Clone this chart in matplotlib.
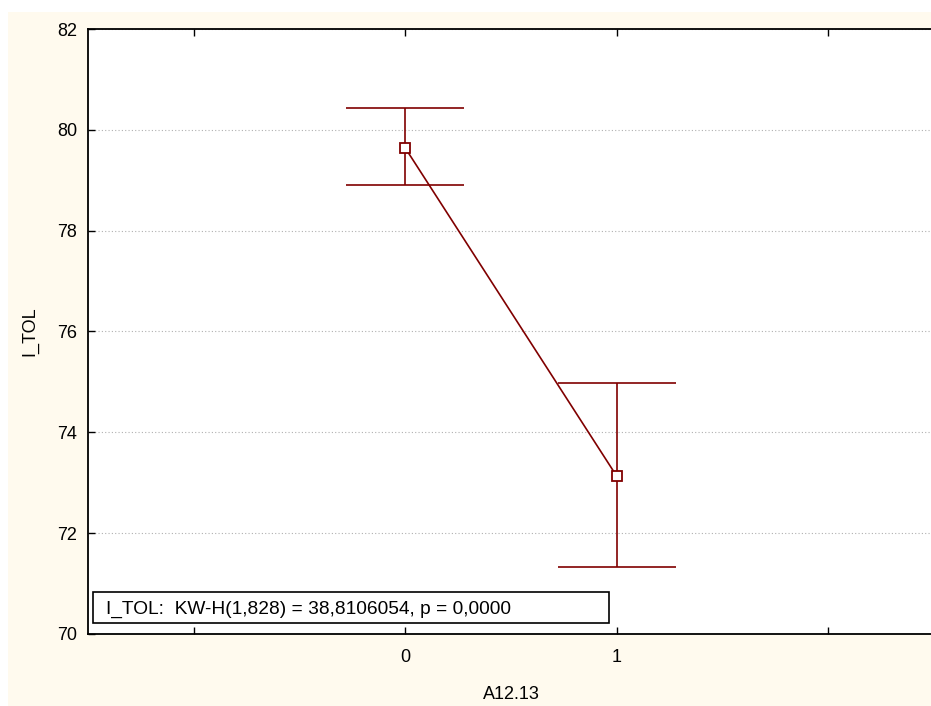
import matplotlib.pyplot as plt
from matplotlib.patches import Rectangle

# data
groups = [0, 1]
means = [79.64, 73.13]
upper = [80.44, 74.98]
lower = [78.91, 71.33]
y_ticks = [70, 72, 74, 76, 78, 80, 82]
stat_text = "I_TOL:  KW-H(1,828) = 38,8106054, p = 0,0000"

red = "#800000"
cream = "#fffaee"
plt.rcParams['font.family'] = ['Liberation Sans', 'DejaVu Sans']

fig = plt.figure(figsize=(9.31, 7.06), dpi=100, facecolor="white")
fig.patches.append(Rectangle((8 / 931, -0.01), 1, 1.01 - 12 / 706, transform=fig.transFigure,
                             facecolor=cream, edgecolor="none", zorder=-10))
ax = fig.add_axes([88 / 931, 72 / 706, 846 / 931, 605 / 706])
ax.set_facecolor("white")

# error bars with wide caps
cap = 0.28
ax.vlines(groups, lower, upper, color=red, lw=1.2, zorder=3)
ax.hlines(upper, [g - cap for g in groups], [g + cap for g in groups], color=red, lw=1.2, zorder=3)
ax.hlines(lower, [g - cap for g in groups], [g + cap for g in groups], color=red, lw=1.2, zorder=3)
ax.plot(groups, means, color=red, lw=1.2, marker="s", ms=7.5, mfc="white", mec=red, mew=1.3, zorder=4)

ax.set_xlim(-1.5, 2.5)
ax.set_ylim(70, 82)
ax.set_xticks([-1, 0, 1, 2])
ax.set_xticklabels(["", "0", "1", ""])
ax.set_yticks(y_ticks)
ax.tick_params(direction="in", length=5, width=1, labelsize=13, top=True, pad=11)
ax.tick_params(axis="y", pad=8)
ax.yaxis.grid(True, linestyle=(0, (1, 2)), color="#b0b0b0", lw=0.8)
ax.set_axisbelow(True)
for side in ["left", "bottom", "top"]:
    ax.spines[side].set_linewidth(1.3)
ax.spines["right"].set_visible(False)

ax.set_xlabel("A12.13", fontsize=13, labelpad=14)
ax.set_ylabel("I_TOL", fontsize=13, labelpad=13)

# statistics box
ax.add_patch(Rectangle((0.006, 0.018), 0.61, 0.051, transform=ax.transAxes,
                       facecolor="white", edgecolor="black", lw=1.2, zorder=5))
ax.text(0.021, 0.0405, stat_text, transform=ax.transAxes, fontsize=13.8,
        va="center", ha="left", zorder=6)

fig.savefig("out.png", dpi=100, facecolor=fig.get_facecolor())
